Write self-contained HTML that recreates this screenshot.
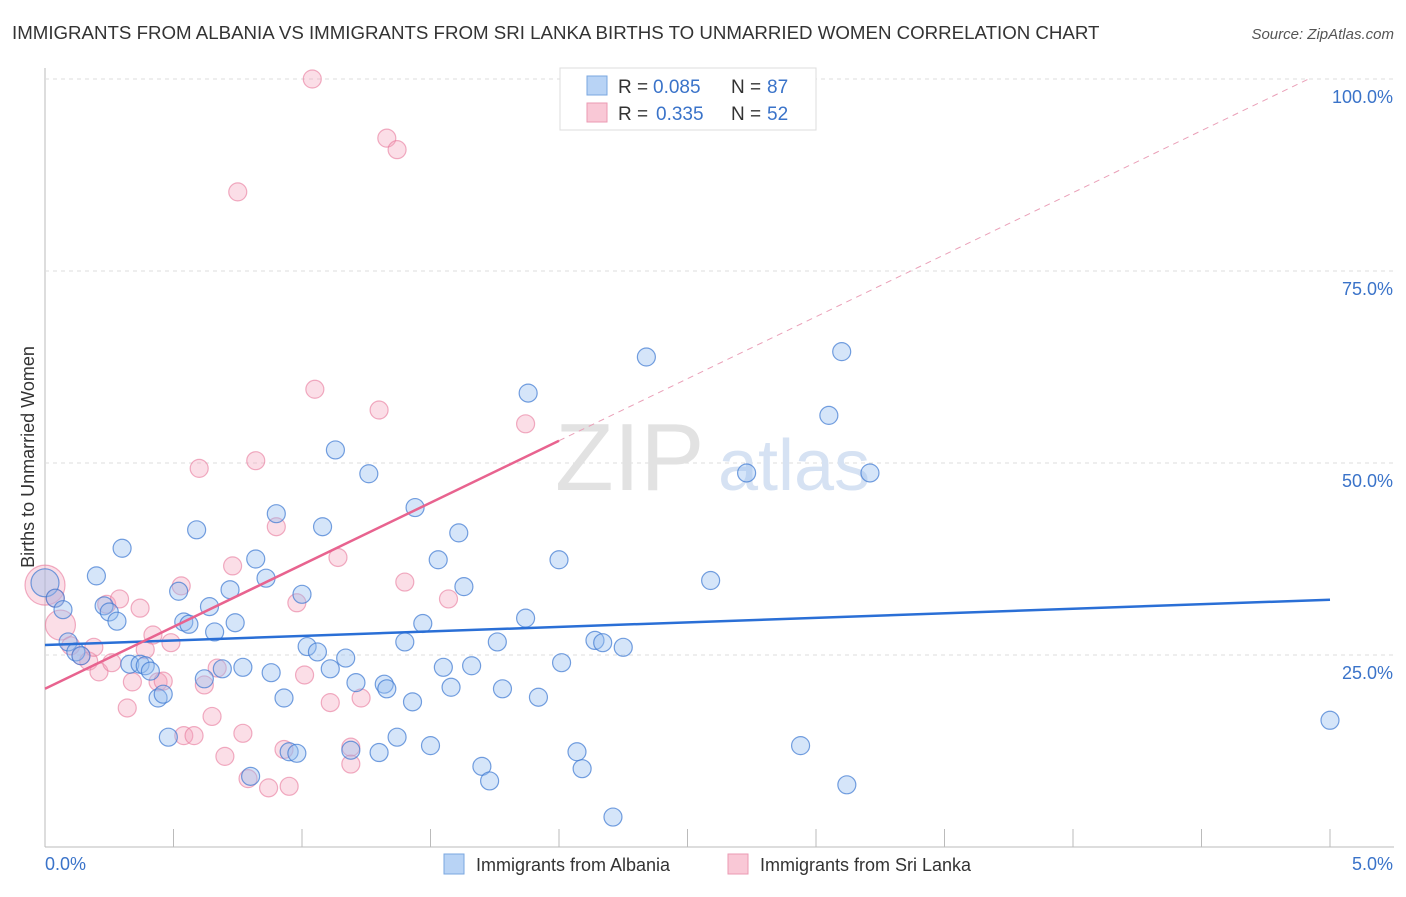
<!DOCTYPE html>
<html><head><meta charset="utf-8"><style>
body{margin:0;background:#fff;font-family:"Liberation Sans",sans-serif;}
svg text{font-family:"Liberation Sans",sans-serif;}
</style></head><body>
<svg id="chart" width="1406" height="892" xmlns="http://www.w3.org/2000/svg">
<text x="12" y="39" font-size="18.7" fill="#333">IMMIGRANTS FROM ALBANIA VS IMMIGRANTS FROM SRI LANKA BIRTHS TO UNMARRIED WOMEN CORRELATION CHART</text>
<text x="1394" y="39" font-size="15" fill="#555" text-anchor="end" font-style="italic">Source: ZipAtlas.com</text>
<text transform="translate(34,457) rotate(-90)" font-size="18" fill="#333" text-anchor="middle">Births to Unmarried Women</text>
<g id="grid"></g>
<g><text x="555" y="490" font-size="96" fill="#e2e2e2" font-family="Liberation Serif">ZIP</text><text x="718" y="490" font-size="72" fill="#d6e2f3">atlas</text></g>
<g id="pts"></g>
<g id="lines"></g>
<g>
<rect x="560" y="68" width="256" height="62" fill="#fff" stroke="#ddd"/>
<rect x="587" y="76" width="20" height="19" fill="#b8d3f5" stroke="#7aa7e0"/>
<rect x="587" y="103" width="20" height="19" fill="#f9c8d6" stroke="#eb9ab3"/>
<text x="618" y="93" font-size="19" fill="#333">R =</text>
<text x="653" y="93" font-size="19" fill="#3a73c9">0.085</text>
<text x="731" y="93" font-size="19" fill="#333">N =</text>
<text x="767" y="93" font-size="19" fill="#3a73c9">87</text>
<text x="618" y="120" font-size="19" fill="#333">R =</text>
<text x="656" y="120" font-size="19" fill="#3a73c9">0.335</text>
<text x="731" y="120" font-size="19" fill="#333">N =</text>
<text x="767" y="120" font-size="19" fill="#3a73c9">52</text>
</g>
<g>
<rect x="444" y="854" width="20" height="20" fill="#b8d3f5" stroke="#7aa7e0"/>
<text x="476" y="871" font-size="18" fill="#333">Immigrants from Albania</text>
<rect x="728" y="854" width="20" height="20" fill="#f9c8d6" stroke="#eb9ab3"/>
<text x="760" y="871" font-size="18" fill="#333">Immigrants from Sri Lanka</text>
</g>
</svg>
<script>
const xTicks=[0,0.5,1,1.5,2,2.5,3,3.5,4,4.5,5];
const yTicks=[25,50,75,100];
const yTickLabels=["25.0%","50.0%","75.0%","100.0%"];
const blueX=[0,0.04,0.07,0.09,0.12,0.14,0.2,0.23,0.25,0.28,0.3,0.33,0.37,0.39,0.41,0.44,0.46,0.48,0.52,0.54,0.56,0.59,0.62,0.64,0.66,0.69,0.74,0.72,0.77,0.8,0.82,0.86,0.88,0.9,0.93,0.95,0.98,1.0,1.02,1.06,1.08,1.11,1.13,1.17,1.19,1.21,1.26,1.3,1.32,1.33,1.37,1.4,1.43,1.44,1.47,1.5,1.53,1.55,1.58,1.61,1.63,1.66,1.7,1.73,1.76,1.78,1.87,1.88,1.92,2.0,2.01,2.07,2.09,2.14,2.17,2.21,2.25,2.34,2.59,2.73,2.94,3.05,3.1,3.12,3.21,5.0];
const blueY=[34.4,32.4,30.9,26.7,25.4,24.9,35.3,31.4,30.6,29.4,38.9,23.8,23.8,23.6,22.9,19.4,19.9,14.3,33.3,29.3,29.0,41.3,21.9,31.3,28.0,23.2,29.2,33.5,23.4,9.2,37.5,35.0,22.7,43.4,19.4,12.4,12.2,32.9,26.1,25.4,41.7,23.2,51.7,24.6,12.6,21.4,48.6,12.3,21.2,20.6,14.3,26.7,18.9,44.2,29.1,13.2,37.4,23.4,20.8,40.9,33.9,23.6,10.5,8.6,26.7,20.6,29.8,59.1,19.5,37.4,24.0,12.4,10.2,26.9,26.6,3.9,26.0,63.8,34.7,48.7,13.2,56.2,64.5,8.1,48.7,16.5];
const pinkX=[0,0.04,0.06,0.1,0.14,0.17,0.19,0.21,0.24,0.26,0.29,0.32,0.34,0.37,0.39,0.42,0.44,0.46,0.49,0.53,0.54,0.58,0.6,0.62,0.65,0.67,0.7,0.73,0.75,0.77,0.79,0.82,0.87,0.9,0.93,0.95,0.98,1.01,1.04,1.05,1.11,1.14,1.19,1.19,1.23,1.3,1.33,1.37,1.4,1.57,1.87];
const pinkY=[34.1,32.4,28.9,26.2,24.9,24.2,26.0,22.8,31.6,24.0,32.3,18.1,21.5,31.1,25.7,27.6,21.5,21.6,26.6,34.0,14.5,14.5,49.3,21.1,17.0,23.3,11.8,36.6,85.3,14.8,8.9,50.3,7.7,41.7,12.7,7.9,31.8,22.4,100,59.6,18.8,37.7,13.0,10.8,19.4,56.9,92.3,90.8,34.5,32.3,55.1];
const blueLine=[26.3,32.2];
const pinkLine=[20.6,52.9];
const NS="http://www.w3.org/2000/svg";
const X=v=>45+v*257, Y=v=>847-v*7.68;
function mk(t,a,p){const e=document.createElementNS(NS,t);for(const k in a)e.setAttribute(k,a[k]);p.appendChild(e);return e;}
const grid=document.getElementById('grid');
mk('line',{x1:45,y1:68,x2:45,y2:847,stroke:'#bbb','stroke-width':1},grid);
mk('line',{x1:45,y1:847,x2:1394,y2:847,stroke:'#bbb','stroke-width':1},grid);
xTicks.forEach(t=>{const l=mk('line',{x1:X(t),y1:829,x2:X(t),y2:847,stroke:'#bbb'},grid);

});
yTicks.forEach((t,i)=>{const l=mk('line',{x1:45,y1:Y(t),x2:1394,y2:Y(t),stroke:'#ddd','stroke-dasharray':'4,4'},grid);


const tx=mk('text',{x:1393,y:Y(t)+24,'font-size':18,fill:'#3a73c9','text-anchor':'end'},grid);tx.textContent=yTickLabels[i];

});
const xl0=mk('text',{x:45,y:870,'font-size':18,fill:'#3a73c9'},grid);xl0.textContent='0.0%';


const xl1=mk('text',{x:1393,y:870,'font-size':18,fill:'#3a73c9','text-anchor':'end'},grid);xl1.textContent='5.0%';


const pts=document.getElementById('pts');
pinkX.forEach((x,i)=>{const c=mk('circle',{cx:X(x),cy:Y(pinkY[i]),r:i==0?20:(i==2?15:9),fill:'rgba(244,160,185,0.35)',stroke:'rgba(232,120,155,0.6)','stroke-width':1.2},pts);

});
blueX.forEach((x,i)=>{const c=mk('circle',{cx:X(x),cy:Y(blueY[i]),r:i==0?14:9,fill:'rgba(150,190,240,0.4)',stroke:'rgba(60,120,210,0.7)','stroke-width':1.2},pts);

});
const lines=document.getElementById('lines');
const bl=mk('line',{x1:X(0),y1:Y(blueLine[0]),x2:X(5),y2:Y(blueLine[1]),stroke:'#2a6fd6','stroke-width':2.5},lines);


const slope=(pinkLine[1]-pinkLine[0])/2;
const xEnd=Math.min(5,(100-pinkLine[0])/slope);
const pd=mk('line',{x1:X(2),y1:Y(pinkLine[1]),x2:X(xEnd),y2:Y(pinkLine[0]+slope*xEnd),stroke:'#eaa0b8','stroke-width':1,'stroke-dasharray':'6,5'},lines);


const pl=mk('line',{x1:X(0),y1:Y(pinkLine[0]),x2:X(2),y2:Y(pinkLine[1]),stroke:'#e8638f','stroke-width':2.5},lines);


</script>
</body></html>
